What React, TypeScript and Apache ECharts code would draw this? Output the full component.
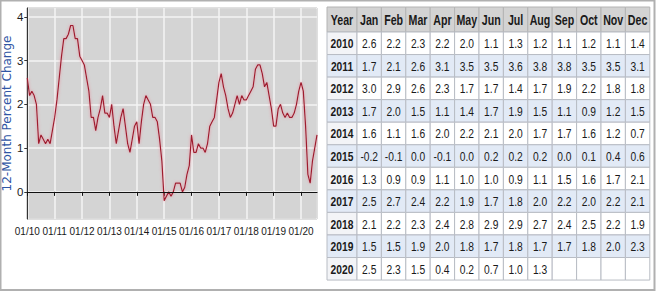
import React, { useEffect, useRef } from "react";
import * as echarts from "echarts";

const years = ["2010", "2011", "2012", "2013", "2014", "2015", "2016", "2017", "2018", "2019", "2020"];
const months = ["Jan", "Feb", "Mar", "Apr", "May", "Jun", "Jul", "Aug", "Sep", "Oct", "Nov", "Dec"];
const v2010 = [2.6, 2.2, 2.3, 2.2, 2.0, 1.1, 1.3, 1.2, 1.1, 1.2, 1.1, 1.4];
const v2011 = [1.7, 2.1, 2.6, 3.1, 3.5, 3.5, 3.6, 3.8, 3.8, 3.5, 3.5, 3.1];
const v2012 = [3.0, 2.9, 2.6, 2.3, 1.7, 1.7, 1.4, 1.7, 1.9, 2.2, 1.8, 1.8];
const v2013 = [1.7, 2.0, 1.5, 1.1, 1.4, 1.7, 1.9, 1.5, 1.1, 0.9, 1.2, 1.5];
const v2014 = [1.6, 1.1, 1.6, 2.0, 2.2, 2.1, 2.0, 1.7, 1.7, 1.6, 1.2, 0.7];
const v2015 = [-0.2, -0.1, 0.0, -0.1, 0.0, 0.2, 0.2, 0.2, 0.0, 0.1, 0.4, 0.6];
const v2016 = [1.3, 0.9, 0.9, 1.1, 1.0, 1.0, 0.9, 1.1, 1.5, 1.6, 1.7, 2.1];
const v2017 = [2.5, 2.7, 2.4, 2.2, 1.9, 1.7, 1.8, 2.0, 2.2, 2.0, 2.2, 2.1];
const v2018 = [2.1, 2.2, 2.3, 2.4, 2.8, 2.9, 2.9, 2.7, 2.4, 2.5, 2.2, 1.9];
const v2019 = [1.5, 1.5, 1.9, 2.0, 1.8, 1.7, 1.8, 1.7, 1.7, 1.8, 2.0, 2.3];
const v2020 = [2.5, 2.3, 1.5, 0.4, 0.2, 0.7, 1.0, 1.3];
const yearValues = [v2010, v2011, v2012, v2013, v2014, v2015, v2016, v2017, v2018, v2019, v2020];
const yAxisTitle = "12-Month Percent Change";

const FONT = "'Liberation Sans', Arial, sans-serif";

export default function App() {
  const ref = useRef<HTMLDivElement>(null);
  useEffect(() => {
    if (!ref.current) return;
    const chart = echarts.init(ref.current, null, { renderer: "svg" });

    const lineData: number[][] = [];
    yearValues.forEach((arr, yi) => arr.forEach((v, mi) => lineData.push([yi * 12 + mi, v])));

    // table geometry
    const tx0 = 327;
    const yearW = 30;
    const colW = 24.4;
    const ty0 = 7;
    const headH = 25;
    const rowH = 22.55;
    const sx = 0.76;
    const elems: any[] = [];
    const colX = (c: number) => (c === 0 ? tx0 : tx0 + yearW + (c - 1) * colW);
    const colWidth = (c: number) => (c === 0 ? yearW : colW);
    const header = ["Year", ...months];
    header.forEach((h, c) => {
      elems.push({
        type: "rect",
        shape: { x: colX(c), y: ty0, width: colWidth(c), height: headH },
        style: { fill: "#d3d3d3", stroke: "#b4b4b4", lineWidth: 1 },
      });
      elems.push({
        type: "text",
        x: colX(c) + colWidth(c) / 2,
        y: ty0 + headH / 2 + 0.5,
        scaleX: sx,
        style: {
          text: h,
          align: "center",
          verticalAlign: "middle",
          font: `bold 14px ${FONT}`,
          fill: "#1a1a1a",
        },
      });
    });
    years.forEach((yr, r) => {
      const y = ty0 + headH + r * rowH;
      const fill = r % 2 === 1 ? "#e2eaf6" : "#ffffff";
      const cells = [yr, ...months.map((_, m) => (yearValues[r][m] !== undefined ? yearValues[r][m].toFixed(1) : ""))];
      cells.forEach((t, c) => {
        elems.push({
          type: "rect",
          shape: { x: colX(c), y, width: colWidth(c), height: rowH },
          style: { fill: c === 0 && r % 2 === 0 ? "#f3f4f7" : fill, stroke: "#b8bcc4", lineWidth: 1 },
        });
        if (t !== "") {
          elems.push({
            type: "text",
            x: colX(c) + colWidth(c) / 2,
            y: y + rowH / 2 + 0.5,
            scaleX: sx,
            style: {
              text: t,
              align: "center",
              verticalAlign: "middle",
              font: c === 0 ? `bold 13.5px ${FONT}` : `13.5px ${FONT}`,
              fill: "#1a1a1a",
            },
          });
        }
      });
    });
    // outer frame
    elems.push({
      type: "rect",
      shape: { x: 0.5, y: 0.5, width: 654, height: 289.5 },
      style: { fill: "none", stroke: "#b0b0b0", lineWidth: 2 },
    });

    chart.setOption({
      animation: false,
      backgroundColor: "#ffffff",
      grid: {
        left: 26,
        right: 339,
        top: 8,
        bottom: 74,
        show: true,
        backgroundColor: "#d4d4d4",
        borderColor: "#444",
        borderWidth: 1,
      },
      xAxis: {
        type: "value",
        min: 0,
        max: 127,
        interval: 12,
        axisLine: { show: true, lineStyle: { color: "#111", width: 1.2 } },
        axisTick: { show: true, length: 4, lineStyle: { color: "#111" } },
        axisLabel: {
          color: "#1a1a1a",
          fontFamily: FONT,
          fontSize: 10,
          margin: 7,
          showMinLabel: true,
          showMaxLabel: false,
          hideOverlap: false,
          formatter: (v: number) => (v % 12 === 0 ? "01/" + String(10 + v / 12) : ""),
        },
        splitLine: { show: true, lineStyle: { color: "#f4f4f4", width: 1.5 } },
      },
      yAxis: {
        type: "value",
        min: -0.62,
        max: 4.2,
        name: yAxisTitle,
        nameLocation: "middle",
        nameGap: 11,
        nameTextStyle: { color: "#2f55a4", fontFamily: "DejaVu Sans", fontSize: 12 },
        axisLine: { show: true, lineStyle: { color: "#333", width: 1 } },
        axisTick: { show: true, length: 3, lineStyle: { color: "#333" } },
        axisLabel: {
          color: "#1a1a1a",
          fontFamily: FONT,
          fontSize: 11.5,
          margin: 4,
          showMinLabel: false,
          showMaxLabel: false,
          formatter: (v: number) => (Math.abs(v - Math.round(v)) < 1e-6 ? String(Math.round(v)) : ""),
        },
        splitLine: { show: true, lineStyle: { color: "#f4f4f4", width: 1.5 } },
      },
      series: [
        {
          type: "line",
          data: lineData,
          showSymbol: false,
          lineStyle: {
            color: "#9e1a2e",
            width: 1.2,
            shadowColor: "rgba(240,120,140,0.8)",
            shadowBlur: 3,
          },
          markLine: {
            silent: true,
            symbol: "none",
            label: { show: false },
            lineStyle: { color: "#111", width: 1.2, type: "solid" },
            data: [{ yAxis: 0 }],
          },
        },
      ],
      graphic: elems,
    });
    return () => chart.dispose();
  }, []);
  return (
    <div
      ref={ref}
      style={{ position: "absolute", left: 0, top: 0, width: 656, height: 293 }}
    />
  );
}
